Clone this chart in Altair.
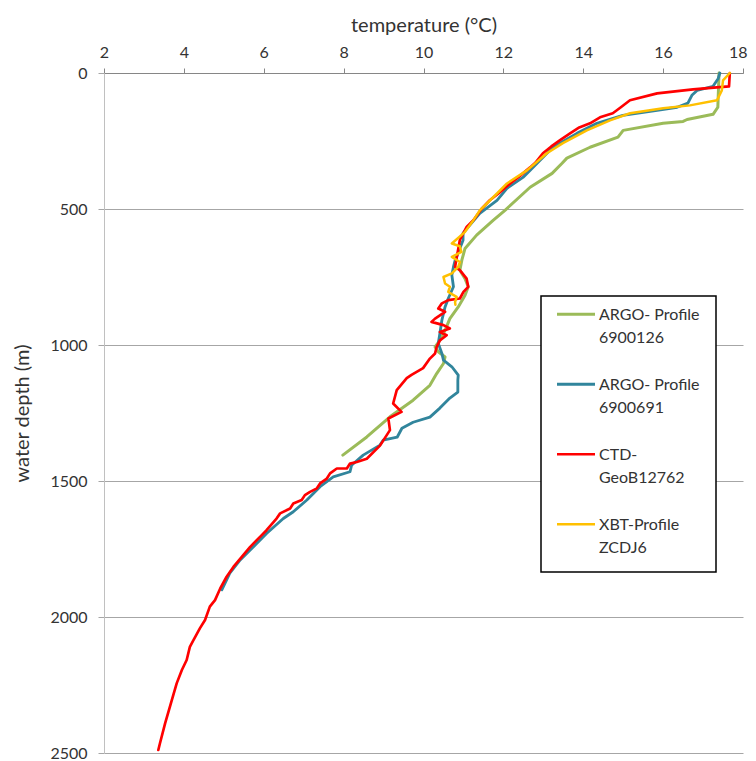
import altair as alt
import pandas as pd

series_names = ["ARGO- Profile|6900126", "ARGO- Profile|6900691", "CTD-|GeoB12762", "XBT-Profile|ZCDJ6"]
series_colors = ["#9BBB59", "#31859C", "#FF0000", "#FFC000"]
series_widths = [3, 2.5, 3.5, 3.5]

x_ticks = [2, 4, 6, 8, 10, 12, 14, 16, 18]
y_ticks = [0, 500, 1000, 1500, 2000, 2500]

argo1_temp = [17.40, 17.37, 17.25, 16.60, 16.50, 16.00, 15.00, 14.87, 14.17, 13.59, 13.47, 13.22,
              12.67, 12.04, 11.75, 11.33, 11.04, 10.96, 10.91, 11.04, 11.12, 11.04, 10.87, 10.66,
              10.54, 10.41, 10.29, 10.37, 10.54, 10.50, 10.33, 10.16, 9.74, 9.16, 8.58, 7.98]
argo1_depth = [0, 126, 152, 171, 178, 185, 211, 236, 273, 313, 332, 369,
               420, 505, 541, 596, 645, 688, 725, 756, 786, 817, 860, 903,
               946, 983, 1007, 1025, 1044, 1068, 1105, 1148, 1203, 1264, 1338, 1405]

argo2_temp = [17.42, 17.38, 17.25, 16.85, 16.72, 16.62, 16.35, 15.85, 14.99, 14.34, 13.84, 13.24,
              12.74, 12.49, 12.09, 11.84, 11.41, 10.99, 10.99, 10.79, 10.75, 10.71, 10.75, 10.62,
              10.54, 10.46, 10.41, 10.37, 10.46, 10.50, 10.71, 10.87, 10.86, 10.86, 10.66, 10.41,
              10.16, 9.74, 9.46, 9.34, 8.99, 8.91, 8.49, 8.20, 8.16, 7.74, 7.41, 7.08, 6.74, 6.49,
              6.07, 5.66, 5.41, 5.15, 5.07, 4.95]
argo2_depth = [0, 20, 49, 64, 82, 111, 126, 137, 156, 185, 222, 273,
               347, 384, 424, 468, 516, 589, 615, 690, 713, 743, 786, 829,
               860, 909, 958, 994, 1031, 1056, 1080, 1111, 1129, 1173, 1195, 1232,
               1265, 1284, 1306, 1339, 1350, 1368, 1405, 1442, 1466, 1485, 1521, 1570, 1613, 1638,
               1693, 1754, 1790, 1839, 1864, 1900]

ctd_temp = [17.67, 17.65, 17.42, 16.75, 15.85, 15.17, 14.95, 14.74, 14.42, 14.17, 13.90, 13.67,
            13.42, 13.20, 12.99, 12.80, 12.67, 12.40, 12.17, 11.90, 11.66, 11.45, 11.25, 11.08,
            10.91, 10.79, 10.91, 11.08, 11.12, 11.00, 10.91, 10.62, 10.46, 10.37, 10.54, 10.29,
            10.20, 10.50, 10.66, 10.41, 10.58, 10.41, 10.33, 10.29, 10.16, 9.99, 9.70, 9.58,
            9.33, 9.24, 9.45, 9.12, 9.16, 8.91, 8.58, 8.33, 8.16, 8.08, 7.83, 7.66, 7.58, 7.41,
            7.33, 7.16, 7.03, 6.95, 6.74, 6.66, 6.41, 6.32, 6.07, 5.95, 5.66, 5.45, 5.24, 5.07,
            4.91, 4.78, 4.65, 4.53, 4.40, 4.24, 4.15, 4.07, 3.95, 3.82, 3.70, 3.53, 3.40, 3.36]
ctd_depth = [0, 49, 52, 60, 75, 100, 125, 148, 163, 185, 200, 222,
             247, 270, 295, 330, 347, 380, 406, 440, 468, 500, 541, 566,
             614, 713, 725, 756, 786, 805, 829, 835, 847, 866, 878, 903,
             915, 927, 939, 952, 964, 983, 1007, 1031, 1050, 1085, 1110, 1122,
             1166, 1215, 1246, 1270, 1313, 1370, 1418, 1430, 1436, 1454, 1454, 1472, 1491, 1509,
             1527, 1540, 1552, 1570, 1583, 1601, 1619, 1638, 1681, 1699, 1742, 1779, 1816, 1852,
             1895, 1938, 1962, 2011, 2042, 2085, 2110, 2158, 2195, 2244, 2305, 2391, 2465, 2489]

xbt_temp = [17.67, 17.50, 17.47, 17.35, 16.67, 16.00, 15.17, 14.67, 14.09, 13.49, 13.09, 12.59,
            12.09, 11.84, 11.41, 11.25, 11.04, 10.71, 10.91, 10.95, 10.71, 10.91, 10.87, 10.71,
            10.50, 10.54, 10.66, 10.62, 10.83, 10.79, 10.80]
xbt_depth = [0, 27, 64, 100, 119, 130, 148, 174, 211, 258, 295, 358,
             406, 443, 505, 541, 584, 627, 637, 658, 676, 695, 713, 737,
             750, 774, 786, 805, 823, 842, 852]

rows = []
for name, temps, depths in zip(series_names,
                               [argo1_temp, argo2_temp, ctd_temp, xbt_temp],
                               [argo1_depth, argo2_depth, ctd_depth, xbt_depth]):
    for i, (t, d) in enumerate(zip(temps, depths)):
        rows.append({"series": name, "temperature": t, "depth": d, "idx": i})
df = pd.DataFrame(rows)

FONT = "Lato"
TXT = "#333333"

legend = alt.Legend(
    title=None, orient="none", legendX=437, legendY=223,
    labelExpr="split(datum.label, '|')",
    symbolType="M-3.8,-1.15L3.8,-1.15", symbolSize=100, symbolStrokeWidth=3,
    symbolOffset=11, labelOffset=15, labelBaseline="alphabetic",
    labelFont=FONT, labelFontSize=16, labelColor=TXT, labelLimit=0,
    rowPadding=31, padding=16, strokeColor="black", fillColor="white",
)

chart = alt.Chart(df).mark_line(strokeJoin="round", strokeCap="round").encode(
    x=alt.X("temperature:Q",
            scale=alt.Scale(domain=[2, 18], nice=False, zero=False),
            axis=alt.Axis(orient="top", title="temperature (°C)", values=x_ticks, grid=False,
                          domainColor="#868686", tickColor="#868686", tickSize=5,
                          labelFont=FONT, labelFontSize=16, labelColor=TXT, labelPadding=8,
                          labelAlign={"condition": {"test": "datum.value == 18", "value": "right"},
                                      "value": "center"},
                          labelOffset={"condition": {"test": "datum.value == 18", "value": 4},
                                       "value": 0},
                          titleFont=FONT, titleFontSize=20, titleFontWeight="normal",
                          titleColor=TXT, titlePadding=9, labelFlush=False)),
    y=alt.Y("depth:Q",
            scale=alt.Scale(domain=[0, 2500], reverse=True, nice=False),
            axis=alt.Axis(title="water depth (m)", values=y_ticks, grid=True, format="d",
                          gridColor="#A6A6A6", domainColor="#C0C0C0", tickColor="#A6A6A6",
                          tickSize=6, labelFont=FONT, labelFontSize=16, labelColor=TXT,
                          labelPadding=11, titleFont=FONT, titleFontSize=20,
                          titleFontWeight="normal", titleColor=TXT, titlePadding=17,
                          labelFlush=False)),
    color=alt.Color("series:N",
                    scale=alt.Scale(domain=series_names, range=series_colors),
                    legend=legend),
    strokeWidth=alt.StrokeWidth("series:N",
                                scale=alt.Scale(domain=series_names, range=series_widths),
                                legend=None),
    order=alt.Order("idx:Q"),
).properties(
    width=639, height=680,
    autosize=alt.AutoSizeParams(type="none"),
    padding={"left": 96, "top": 65, "right": 5, "bottom": 8},
).configure(
    style={"guide-label": {"lineHeight": 23}}
).configure_view(
    stroke=None
).configure_legend(
    strokeWidth=1.5
)

chart.save("out.html", embed_options={"renderer": "svg", "actions": False})
